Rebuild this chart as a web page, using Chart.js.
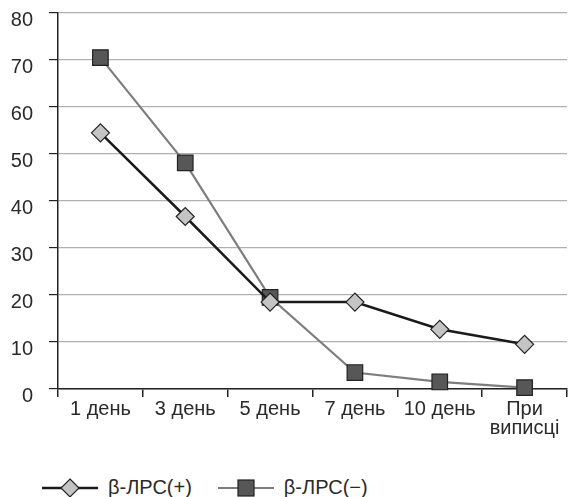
<!DOCTYPE html>
<html>
<head>
<meta charset="utf-8">
<script src="https://cdn.jsdelivr.net/npm/chart.js@4"></script>
<style>
  body { margin: 0; background: #fff; font-family: "Liberation Sans", Arial, sans-serif; }
  #wrap { position: relative; width: 572px; height: 440px; }
  #legend { position: absolute; top: 476px; left: 40px; display: flex; align-items: center; font-size: 20px; color: #2a2a2a; }
  #legend .item { display: flex; align-items: center; margin-right: 24px; }
  #legend svg { margin-right: 8px; }
</style>
</head>
<body>
<div id="wrap"><canvas id="chart"></canvas></div>
<div id="legend"></div>
<script>
  // categories and series
  const categories = ['1 день', '3 день', '5 день', '7 день', '10 день', ['При', 'виписці']];
  const seriesNames = ['β-ЛРС(+)', 'β-ЛРС(−)'];
  const lrsPlus = [54.5, 36.7, 18.5, 18.5, 12.7, 9.5];
  const lrsMinus = [70.5, 48.1, 19.5, 3.5, 1.5, 0.3];
  const yTicks = [0, 10, 20, 30, 40, 50, 60, 70, 80];

  const labelFont = { family: '"Liberation Sans", Arial, sans-serif', size: 20, lineHeight: 0.95 };

  new Chart(document.getElementById('chart'), {
    type: 'line',
    data: {
      labels: categories,
      datasets: [{
        label: seriesNames[0],
        data: lrsPlus,
        borderColor: '#1a1a1a',
        borderWidth: 2.5,
        pointStyle: 'rectRot',
        pointRadius: 9,
        pointBackgroundColor: '#c4c4c4',
        pointBorderColor: '#222',
        pointBorderWidth: 1.2,
        tension: 0
      }, {
        label: seriesNames[1],
        data: lrsMinus,
        borderColor: '#7d7d7d',
        borderWidth: 2.2,
        pointStyle: 'rect',
        pointRadius: 11,
        pointBackgroundColor: '#575757',
        pointBorderColor: '#222',
        pointBorderWidth: 1.2,
        tension: 0,
        clip: false
      }]
    },
    options: {
      responsive: true,
      maintainAspectRatio: false,
      animation: false,
      layout: { autoPadding: false, padding: { top: 13, right: 5 } },
      plugins: { legend: { display: false }, tooltip: { enabled: false } },
      scales: {
        x: {
          offset: true,
          grid: { offset: true, drawOnChartArea: false, drawTicks: true, tickLength: 8, tickColor: '#222', lineWidth: 1.5 },
          border: { color: '#222', width: 1.5 },
          ticks: { color: '#2a2a2a', font: labelFont, padding: 3, maxRotation: 0, autoSkip: false },
          afterFit: function(s) { s.height = 51; }
        },
        y: {
          min: 0,
          max: 80,
          afterBuildTicks: function(s) { s.ticks = yTicks.map(v => ({ value: v })); },
          grid: { color: '#b0b0b0', lineWidth: 1.2, tickLength: 9, tickColor: '#222' },
          border: { color: '#222', width: 1.5 },
          ticks: { color: '#2a2a2a', font: labelFont, padding: 16, labelOffset: 7 },
          afterFit: function(s) { s.width = 58; s.paddingTop = 0; s.paddingBottom = 0; }
        }
      }
    }
  });

  // legend with line + marker
  const legend = document.getElementById('legend');
  legend.innerHTML =
    '<div class="item"><svg width="60" height="22"><line x1="2" y1="11" x2="58" y2="11" stroke="#1a1a1a" stroke-width="2.5"/>' +
    '<polygon points="30,2 39,11 30,20 21,11" fill="#c4c4c4" stroke="#222" stroke-width="1.2"/></svg>' + seriesNames[0] + '</div>' +
    '<div class="item"><svg width="60" height="22"><line x1="2" y1="11" x2="58" y2="11" stroke="#7d7d7d" stroke-width="2.2"/>' +
    '<rect x="22" y="3" width="16" height="16" fill="#575757" stroke="#222" stroke-width="1.2"/></svg>' + seriesNames[1] + '</div>';
</script>
</body>
</html>
